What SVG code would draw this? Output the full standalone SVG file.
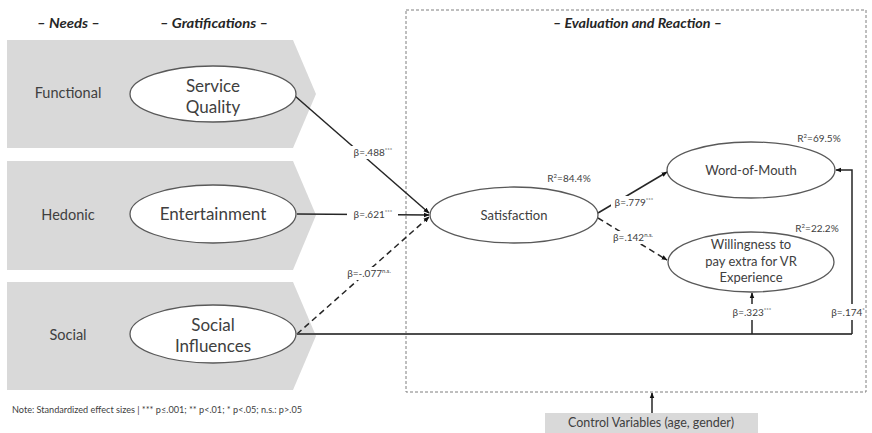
<svg xmlns="http://www.w3.org/2000/svg" width="872" height="433" viewBox="0 0 872 433">
<defs>
<style>
text{font-family:Lato,"Open Sans","Liberation Sans",sans-serif;fill:#404040}
.hdr{font-weight:bold;font-style:italic;font-size:13.5px;fill:#262626}
.need{font-size:14.5px;text-anchor:middle}
.grat{font-size:17px;text-anchor:middle}
.evl{font-size:13px;text-anchor:middle}
.beta{font-size:10px;text-anchor:middle}
.sup{font-size:6px}
.band{fill:#d9d9d9}
.ell{fill:#fff;stroke:#595959;stroke-width:1.3}
.ln{stroke:#262626;stroke-width:1.5;fill:none}
.dash{stroke-dasharray:6,4}
.lbg{fill:#fff}
</style>
<marker id="ah" viewBox="0 0 10 10" refX="9" refY="5" markerWidth="6" markerHeight="6" orient="auto" markerUnits="userSpaceOnUse">
<path d="M0,1 L10,5 L0,9 z" fill="#111"/>
</marker>
</defs>

<!-- headers -->
<text class="hdr" x="37" y="28" textLength="63" lengthAdjust="spacingAndGlyphs">– Needs –</text>
<text class="hdr" x="160" y="28" textLength="108" lengthAdjust="spacingAndGlyphs">– Gratifications –</text>
<text class="hdr" x="553" y="28" textLength="169" lengthAdjust="spacingAndGlyphs">– Evaluation  and  Reaction –</text>

<!-- evaluation frame -->
<rect x="406" y="10" width="460" height="382" fill="none" stroke="#7f7f7f" stroke-width="1" stroke-dasharray="3,2"/>

<!-- need bands -->
<g id="band-functional"><polygon class="band" points="7,40 293,40 316,94 293,148 7,148"/><text class="need" x="68" y="98">Functional</text></g>
<g id="band-hedonic"><polygon class="band" points="7,161 293,161 316,215 293,270 7,270"/><text class="need" x="68" y="220">Hedonic</text></g>
<g id="band-social"><polygon class="band" points="7,282 293,282 316,336 293,390 7,390"/><text class="need" x="68" y="340">Social</text></g>

<!-- connectors -->
<g id="connectors">
<line class="ln" x1="295" y1="96" x2="429" y2="213" marker-end="url(#ah)"/>
<line class="ln" x1="297" y1="214" x2="429" y2="215" marker-end="url(#ah)"/>
<line class="ln dash" x1="297" y1="334" x2="429" y2="217" marker-end="url(#ah)"/>
<line class="ln" x1="598" y1="213" x2="667" y2="172" marker-end="url(#ah)"/>
<line class="ln dash" x1="598" y1="218" x2="667" y2="260" marker-end="url(#ah)"/>
<polyline fill="none" stroke="#4d4d4d" stroke-width="2" points="297,334 852,334"/>
<line class="ln" x1="752" y1="334" x2="752" y2="293" marker-end="url(#ah)"/>
<polyline class="ln" points="852,334 852,170 836,170" marker-end="url(#ah)"/>
<line class="ln" x1="652" y1="413" x2="652" y2="393" marker-end="url(#ah)"/>

<rect class="lbg" x="349" y="146" width="48" height="13"/>
<text class="beta" x="373" y="156">β=.488<tspan class="sup" dy="-4">***</tspan></text>
<rect class="lbg" x="347" y="208" width="51" height="13"/>
<text class="beta" x="373" y="218">β=.621<tspan class="sup" dy="-4">***</tspan></text>
<rect class="lbg" x="343" y="267" width="50" height="13"/>
<text class="beta" x="369" y="277">β=-.077<tspan class="sup" dy="-4">n.s.</tspan></text>
<rect class="lbg" x="611" y="196" width="46" height="13"/>
<text class="beta" x="634" y="206">β=.779<tspan class="sup" dy="-4">***</tspan></text>
<rect class="lbg" x="609" y="231" width="48" height="13"/>
<text class="beta" x="633" y="241">β=.142<tspan class="sup" dy="-4">n.s.</tspan></text>
<rect class="lbg" x="728" y="304" width="48" height="16"/>
<text class="beta" x="752" y="316">β=.323<tspan class="sup" dy="-4">***</tspan></text>
<rect class="lbg" x="831" y="304" width="33" height="16"/>
<text class="beta" x="848" y="316">β=.174<tspan class="sup" dy="-4">*</tspan></text>
</g>

<!-- gratification nodes -->
<g id="node-service-quality"><ellipse class="ell" cx="213" cy="94" rx="83" ry="28"/><text class="grat" x="213" y="92">Service</text><text class="grat" x="213" y="113">Quality</text></g>
<g id="node-entertainment"><ellipse class="ell" cx="213" cy="214" rx="83" ry="29"/><text class="grat" x="213" y="220">Entertainment</text></g>
<g id="node-social-influences"><ellipse class="ell" cx="213" cy="334" rx="83" ry="29"/><text class="grat" x="213" y="331">Social</text><text class="grat" x="213" y="352">Influences</text></g>

<!-- evaluation nodes -->
<g id="node-satisfaction"><ellipse class="ell" cx="514" cy="215" rx="84" ry="28"/><text class="evl" x="514" y="220">Satisfaction</text>
<text class="beta" x="569" y="182">R<tspan class="sup" dy="-4">2</tspan><tspan dy="4">=84.4%</tspan></text></g>
<g id="node-word-of-mouth"><ellipse class="ell" cx="751" cy="170" rx="84" ry="28"/><text class="evl" x="751" y="175">Word-of-Mouth</text>
<text class="beta" x="819" y="142">R<tspan class="sup" dy="-4">2</tspan><tspan dy="4">=69.5%</tspan></text></g>
<g id="node-willingness"><ellipse class="ell" cx="751" cy="262" rx="83" ry="30"/><text class="evl" x="751" y="249">Willingness to</text><text class="evl" x="751" y="266">pay extra for VR</text><text class="evl" x="751" y="282">Experience</text>
<text class="beta" x="817" y="232">R<tspan class="sup" dy="-4">2</tspan><tspan dy="4">=22.2%</tspan></text></g>

<!-- control variables -->
<g id="node-control"><rect x="545" y="413" width="213" height="20" fill="#d9d9d9"/><text x="651" y="427" font-size="12.5" text-anchor="middle">Control Variables (age, gender)</text></g>

<!-- note -->
<text x="12" y="413" font-size="8.5" textLength="290" lengthAdjust="spacingAndGlyphs">Note: Standardized effect sizes | *** p≤.001; ** p&lt;.01; * p&lt;.05; n.s.: p&gt;.05</text>
</svg>
